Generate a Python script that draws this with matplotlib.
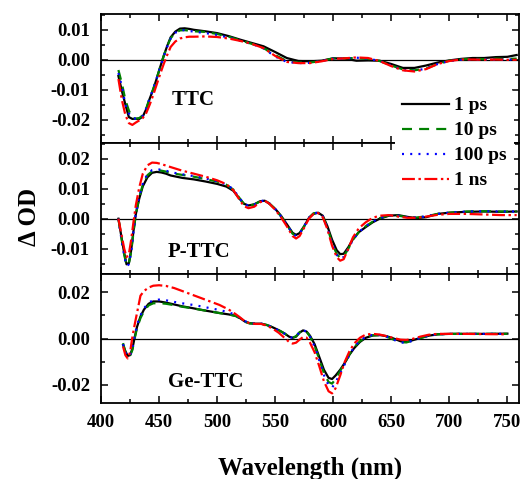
import numpy as np
import matplotlib
matplotlib.use("Agg")
import matplotlib.pyplot as plt
from matplotlib.ticker import MultipleLocator, FormatStrFormatter

plt.rcParams["font.family"] = ["Liberation Serif", "DejaVu Serif"]
plt.rcParams["font.weight"] = "bold"

series_labels = ["1 ps", "10 ps", "100 ps", "1 ns"]
series_colors = ["#000000", "#008000", "#0000ff", "#ff0000"]

# --- TTC panel ---
wl_ttc = [415, 418, 421, 424, 427, 430, 433, 436, 439, 442, 445, 448, 451, 454, 457,
          460, 464, 468, 472, 476, 480, 490, 500, 510, 520, 530, 540, 550, 560, 570,
          580, 590, 600, 610, 620, 630, 640, 650, 660, 670, 680, 690, 700, 710, 720,
          730, 740, 750, 758]
ttc_1ps = [-0.0055, -0.0105, -0.0150, -0.0192, -0.0198, -0.0198, -0.0198, -0.0190, -0.0165,
           -0.0130, -0.0100, -0.0063, -0.0025, 0.0012, 0.0045, 0.0074, 0.0093, 0.0103, 0.0104,
           0.0102, 0.0099, 0.0094, 0.0088, 0.0078, 0.0066, 0.0055, 0.0044, 0.0025, 0.0005,
           -0.0005, -0.0006, -0.0004, 0.0004, 0.0003, -0.0004, -0.0003, -0.0004, -0.0015,
           -0.0028, -0.0028, -0.0020, -0.0010, -0.0003, 0.0002, 0.0005, 0.0005, 0.0008,
           0.0009, 0.0015]
ttc_10ps = [-0.0035, -0.0080, -0.0135, -0.0170, -0.0195, -0.0197, -0.0195, -0.0186, -0.0163,
            -0.0128, -0.0098, -0.0062, -0.0025, 0.0012, 0.0044, 0.0071, 0.0089, 0.0097, 0.0098,
            0.0096, 0.0094, 0.0092, 0.0085, 0.0076, 0.0064, 0.0052, 0.0038, 0.0015, -0.0005,
            -0.0010, -0.0010, -0.0005, 0.0004, 0.0004, 0.0005, 0.0002, -0.0005, -0.0020,
            -0.0033, -0.0036, -0.0030, -0.0015, -0.0004, 0.0000, 0.0003, 0.0001, 0.0003,
            0.0002, 0.0003]
ttc_100ps = [-0.0045, -0.0090, -0.0150, -0.0180, -0.0195, -0.0197, -0.0195, -0.0188, -0.0163,
             -0.0128, -0.0098, -0.0062, -0.0026, 0.0010, 0.0042, 0.0070, 0.0089, 0.0097, 0.0098,
             0.0095, 0.0093, 0.0088, 0.0082, 0.0073, 0.0062, 0.0052, 0.0037, 0.0010, -0.0008,
             -0.0012, -0.0011, -0.0005, 0.0003, 0.0003, 0.0006, 0.0003, -0.0005, -0.0020,
             -0.0035, -0.0038, -0.0030, -0.0015, -0.0005, -0.0001, 0.0000, 0.0000, 0.0000,
             0.0000, 0.0000]
ttc_1ns = [-0.0065, -0.0135, -0.0185, -0.0212, -0.0218, -0.0210, -0.0203, -0.0195, -0.0178,
           -0.0150, -0.0118, -0.0083, -0.0048, -0.0015, 0.0015, 0.0042, 0.0060, 0.0070, 0.0074,
           0.0076, 0.0076, 0.0077, 0.0075, 0.0070, 0.0062, 0.0052, 0.0038, 0.0012, -0.0008,
           -0.0012, -0.0012, -0.0006, 0.0002, 0.0004, 0.0007, 0.0005, -0.0005, -0.0022,
           -0.0036, -0.0040, -0.0032, -0.0015, -0.0005, 0.0000, 0.0000, -0.0001, 0.0000,
           -0.0001, -0.0001]

# --- P-TTC panel ---
wl_pttc = [415, 418, 420, 422, 424, 426, 428, 430, 433, 436, 440, 444, 448, 452, 456, 460,
           470, 480, 490, 500, 508, 514, 519, 523, 527, 532, 537, 541, 545, 550, 555, 560,
           565, 568, 571, 575, 579, 583, 587, 591, 595, 599, 603, 606, 609, 613, 617, 622,
           628, 634, 640, 648, 656, 664, 672, 680, 690, 700, 715, 730, 745, 758]
pttc_1ps = [0.0, -0.0070, -0.0115, -0.0152, -0.0148, -0.0105, -0.0040, 0.0015, 0.0068, 0.0108,
            0.0138, 0.0153, 0.0156, 0.0154, 0.0150, 0.0144, 0.0136, 0.0131, 0.0124, 0.0116,
            0.0107, 0.0093, 0.0068, 0.0050, 0.0044, 0.0048, 0.0058, 0.0060, 0.0050, 0.0033,
            0.0010, -0.0018, -0.0047, -0.0054, -0.0048, -0.0025, 0.0002, 0.0016, 0.0020,
            0.0010, -0.0025, -0.0070, -0.0105, -0.0118, -0.0117, -0.0095, -0.0068, -0.0045,
            -0.0028, -0.0012, 0.0000, 0.0010, 0.0012, 0.0006, 0.0002, 0.0005, 0.0016, 0.0020,
            0.0023, 0.0024, 0.0023, 0.0024]
pttc_10ps = [0.0, -0.0075, -0.0120, -0.0155, -0.0150, -0.0110, -0.0045, 0.0015, 0.0072, 0.0113,
             0.0145, 0.0158, 0.0162, 0.0160, 0.0157, 0.0152, 0.0146, 0.0140, 0.0132, 0.0124,
             0.0113, 0.0097, 0.0070, 0.0050, 0.0043, 0.0047, 0.0058, 0.0061, 0.0051, 0.0032,
             0.0008, -0.0020, -0.0050, -0.0058, -0.0050, -0.0025, 0.0003, 0.0018, 0.0020,
             0.0008, -0.0030, -0.0080, -0.0118, -0.0130, -0.0126, -0.0100, -0.0070, -0.0045,
             -0.0025, -0.0010, 0.0002, 0.0011, 0.0010, 0.0005, 0.0004, 0.0008, 0.0016, 0.0020,
             0.0024, 0.0025, 0.0024, 0.0024]
pttc_100ps = [0.0, -0.0078, -0.0123, -0.0158, -0.0152, -0.0110, -0.0043, 0.0018, 0.0075, 0.0117,
              0.0149, 0.0162, 0.0165, 0.0163, 0.0160, 0.0155, 0.0148, 0.0142, 0.0134, 0.0125,
              0.0114, 0.0098, 0.0070, 0.0050, 0.0043, 0.0047, 0.0058, 0.0061, 0.0051, 0.0032,
              0.0008, -0.0020, -0.0050, -0.0058, -0.0050, -0.0025, 0.0003, 0.0018, 0.0020,
              0.0008, -0.0030, -0.0082, -0.0120, -0.0133, -0.0128, -0.0100, -0.0070, -0.0045,
              -0.0025, -0.0010, 0.0002, 0.0011, 0.0010, 0.0005, 0.0004, 0.0008, 0.0016, 0.0020,
              0.0024, 0.0025, 0.0024, 0.0024]
pttc_1ns = [0.0, -0.0060, -0.0100, -0.0128, -0.0118, -0.0070, -0.0010, 0.0045, 0.0105, 0.0150,
            0.0178, 0.0187, 0.0186, 0.0182, 0.0177, 0.0172, 0.0160, 0.0150, 0.0140, 0.0128,
            0.0115, 0.0095, 0.0065, 0.0042, 0.0035, 0.0040, 0.0055, 0.0060, 0.0050, 0.0030,
            0.0005, -0.0025, -0.0058, -0.0066, -0.0058, -0.0030, 0.0000, 0.0016, 0.0019,
            0.0005, -0.0035, -0.0090, -0.0128, -0.0140, -0.0135, -0.0100, -0.0062, -0.0032,
            -0.0012, 0.0003, 0.0010, 0.0012, 0.0007, 0.0003, 0.0003, 0.0007, 0.0013, 0.0016,
            0.0016, 0.0014, 0.0012, 0.0012]

# --- Ge-TTC panel ---
wl_ge = [419, 421, 423, 425, 427, 429, 431, 434, 437, 441, 445, 450, 456, 463, 470, 478, 486,
         494, 502, 510, 516, 520, 524, 528, 533, 538, 543, 548, 553, 558, 562, 565, 568, 571,
         574, 577, 580, 584, 588, 592, 596, 599, 602, 606, 610, 614, 618, 623, 628, 634, 640,
         646, 652, 658, 663, 668, 675, 682, 690, 700, 715, 730, 750]
ge_1ps = [-0.0028, -0.0055, -0.0075, -0.0072, -0.0045, 0.0005, 0.0050, 0.0095, 0.0125, 0.0150,
          0.0160, 0.0160, 0.0155, 0.0147, 0.0139, 0.0132, 0.0124, 0.0117, 0.0110, 0.0104,
          0.0098, 0.0087, 0.0073, 0.0066, 0.0064, 0.0064, 0.0058, 0.0048, 0.0036, 0.0022,
          0.0008, 0.0003, 0.0008, 0.0025, 0.0035, 0.0030, 0.0012, -0.0025, -0.0080, -0.0135,
          -0.0170, -0.0175, -0.0160, -0.0135, -0.0105, -0.0070, -0.0042, -0.0015, 0.0003,
          0.0013, 0.0015, 0.0010, 0.0000, -0.0012, -0.0014, -0.0008, 0.0002, 0.0012, 0.0018,
          0.0020, 0.0020, 0.0020, 0.0021]
ge_10ps = [-0.0020, -0.0058, -0.0078, -0.0075, -0.0050, 0.0000, 0.0045, 0.0088, 0.0118, 0.0143,
           0.0152, 0.0153, 0.0150, 0.0144, 0.0137, 0.0131, 0.0124, 0.0117, 0.0110, 0.0104,
           0.0097, 0.0086, 0.0072, 0.0065, 0.0064, 0.0064, 0.0058, 0.0048, 0.0036, 0.0022,
           0.0008, 0.0003, 0.0010, 0.0027, 0.0036, 0.0030, 0.0008, -0.0032, -0.0090, -0.0150,
           -0.0188, -0.0195, -0.0175, -0.0140, -0.0105, -0.0068, -0.0038, -0.0012, 0.0005,
           0.0014, 0.0014, 0.0008, -0.0005, -0.0016, -0.0017, -0.0010, 0.0002, 0.0012, 0.0018,
           0.0020, 0.0020, 0.0020, 0.0020]
ge_100ps = [-0.0025, -0.0060, -0.0078, -0.0072, -0.0040, 0.0010, 0.0058, 0.0100, 0.0130, 0.0155,
            0.0165, 0.0168, 0.0165, 0.0158, 0.0152, 0.0146, 0.0139, 0.0131, 0.0123, 0.0113,
            0.0102, 0.0089, 0.0075, 0.0067, 0.0064, 0.0064, 0.0058, 0.0048, 0.0035, 0.0021,
            0.0007, 0.0003, 0.0010, 0.0027, 0.0036, 0.0030, 0.0008, -0.0035, -0.0095, -0.0158,
            -0.0202, -0.0212, -0.0190, -0.0150, -0.0110, -0.0070, -0.0037, -0.0010, 0.0007,
            0.0016, 0.0015, 0.0008, -0.0005, -0.0017, -0.0018, -0.0010, 0.0003, 0.0012, 0.0018,
            0.0020, 0.0020, 0.0020, 0.0020]
ge_1ns = [-0.0035, -0.0072, -0.0086, -0.0060, 0.0005, 0.0060, 0.0110, 0.0185, 0.0205, 0.0220,
          0.0228, 0.0230, 0.0227, 0.0218, 0.0205, 0.0190, 0.0175, 0.0160, 0.0145, 0.0125,
          0.0105, 0.0090, 0.0074, 0.0066, 0.0063, 0.0063, 0.0055, 0.0042, 0.0025, 0.0003,
          -0.0015, -0.0022, -0.0018, -0.0005, 0.0006, 0.0004, -0.0018, -0.0060, -0.0120,
          -0.0185, -0.0228, -0.0237, -0.0215, -0.0160, -0.0100, -0.0055, -0.0022, 0.0003,
          0.0017, 0.0020, 0.0017, 0.0010, 0.0002, -0.0005, -0.0006, -0.0002, 0.0008, 0.0016,
          0.0020, 0.0020, 0.0020, 0.0019, 0.0018]

panels = [
    ("TTC", wl_ttc, [ttc_1ps, ttc_10ps, ttc_100ps, ttc_1ns]),
    ("P-TTC", wl_pttc, [pttc_1ps, pttc_10ps, pttc_100ps, pttc_1ns]),
    ("Ge-TTC", wl_ge, [ge_1ps, ge_10ps, ge_100ps, ge_1ns]),
]

W, H = 521, 479
fig = plt.figure(figsize=(W / 100, H / 100), dpi=100)

# axes boxes in pixels (left, top, right, bottom)
boxes = [(101, 14, 519, 143), (101, 143, 519, 274), (101, 274, 519, 403)]
ylims = [(-0.02783, 0.01517), (-0.01843, 0.02523), (-0.02786, 0.02786)]
ymajor = [0.01, 0.01, 0.02]
yminor = [0.005, 0.005, 0.01]
label_pos = [(479, -0.0135), (484, -0.0111), (490, -0.0187)]

styles = [
    dict(linestyle="-"),
    dict(linestyle=(0, (4.5, 3.2))),
    dict(linestyle=(0, (0.9, 2.8))),
    dict(linestyle=(0, (5.8, 1.6, 1.1, 1.6))),
]

axes = []
for i, (name, wl, ys) in enumerate(panels):
    l, t, r, b = boxes[i]
    ax = fig.add_axes([l / W, 1 - b / H, (r - l) / W, (b - t) / H])
    ax.axhline(0, color="black", lw=0.9, zorder=1)
    for y, c, lab, st in zip(ys, series_colors, series_labels, styles):
        ax.plot(wl, y, color=c, lw=1.6, label=lab, zorder=3, **st)
    ax.set_xlim(400, 760)
    ax.set_ylim(*ylims[i])
    ax.xaxis.set_major_locator(MultipleLocator(50))
    ax.xaxis.set_minor_locator(MultipleLocator(25))
    ax.yaxis.set_major_locator(MultipleLocator(ymajor[i]))
    ax.yaxis.set_minor_locator(MultipleLocator(yminor[i]))
    ax.yaxis.set_major_formatter(FormatStrFormatter("%.2f"))
    ax.tick_params(which="both", direction="in", top=True, right=True, width=1.1)
    ax.tick_params(which="major", length=5, labelsize=13.5, pad=8)
    ax.tick_params(which="minor", length=3.2)
    if i < 2:
        ax.tick_params(labelbottom=False)
    for sp in ax.spines.values():
        sp.set_linewidth(1.3)
    ax.text(label_pos[i][0], label_pos[i][1], name, fontsize=15, fontweight="bold",
            ha="center", va="center")
    for lbl in ax.get_xticklabels() + ax.get_yticklabels():
        lbl.set_fontweight("bold")
    axes.append(ax)

handles, labels = axes[0].get_legend_handles_labels()
leg = fig.legend(handles, labels, loc="upper left",
                 bbox_to_anchor=(395 / W, 1 - 90 / H),
                 prop=dict(size=14, weight="bold"), frameon=True,
                 facecolor="white", edgecolor="none", framealpha=1,
                 handlelength=2.45, handletextpad=0.25, labelspacing=0.38,
                 borderpad=0.35, borderaxespad=0)
leg.get_frame().set_linewidth(0)

fig.text(310 / W, 1 - 475 / H, "Wavelength (nm)", fontsize=18, fontweight="bold",
         ha="center", va="baseline")
fig.text(30 / W, 1 - 217 / H, "\u0394 OD", fontsize=18, fontweight="bold",
         ha="center", va="center", rotation=90)

fig.savefig("out.png", dpi=100)
